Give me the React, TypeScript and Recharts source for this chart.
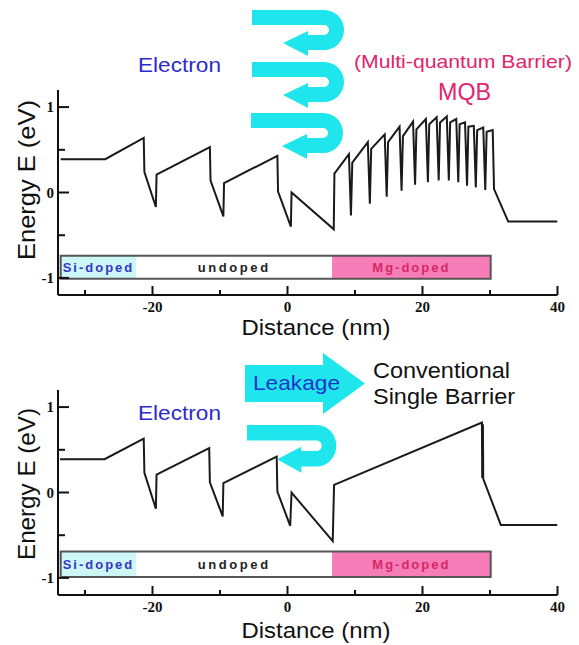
import { LineChart, Line, XAxis, YAxis, ReferenceArea } from 'recharts'

// axis ticks
const xTicks = [-30, -20, -10, 0, 10, 20, 30, 40]
const xTickLabels = [-20, 0, 20, 40]
const yTicks = [-1, -0.5, 0, 0.5, 1]
const yTickLabels = [-1, 0, 1]

// conduction band with multi-quantum barrier (distance nm, energy eV)
const mqbProfile: [number, number][] = [
  [-33.6, 0.39], [-27.0, 0.39], [-21.3, 0.64], [-21.2, 0.24], [-19.5, -0.17], [-19.4, 0.21],
  [-11.5, 0.53], [-11.4, 0.14], [-9.5, -0.28], [-9.4, 0.11],
  [-1.5, 0.43], [-1.4, 0.01], [0.5, -0.4], [0.6, 0.0], [6.85, -0.43], [6.95, 0.22],
  [9.1, 0.45], [9.4, -0.27], [9.6, 0.35],
  [11.9, 0.59], [12.2, -0.13], [12.4, 0.51],
  [14.4, 0.68], [14.7, -0.05], [14.9, 0.59],
  [16.6, 0.77], [16.9, 0.02], [17.1, 0.66],
  [18.6, 0.83], [18.9, 0.09], [19.1, 0.74],
  [20.5, 0.86], [20.8, 0.12], [21.0, 0.8],
  [22.1, 0.88], [22.4, 0.14], [22.6, 0.82],
  [23.6, 0.89], [23.9, 0.14], [24.1, 0.82],
  [25.0, 0.86], [25.3, 0.12], [25.5, 0.8],
  [26.3, 0.82], [26.6, 0.08], [26.8, 0.77],
  [27.6, 0.78], [27.9, 0.06], [28.1, 0.73],
  [29.0, 0.76], [29.3, 0.03], [29.5, 0.71],
  [30.4, 0.73], [30.6, 0.04], [32.7, -0.34], [40, -0.34],
]

// conduction band with conventional single barrier
const singleProfile: [number, number][] = [
  [-33.7, 0.39], [-27.1, 0.39], [-21.3, 0.63], [-21.2, 0.23], [-19.5, -0.19], [-19.4, 0.21],
  [-11.6, 0.52], [-11.5, 0.12], [-9.6, -0.28], [-9.5, 0.11],
  [-1.6, 0.42], [-1.5, 0.01], [0.4, -0.39], [0.6, 0.0], [6.7, -0.57], [6.9, 0.09],
  [28.8, 0.82], [28.85, 0.17], [28.95, 0.8], [29.0, 0.16], [31.6, -0.38], [40, -0.38],
]

// doping layers
const dopingNames = ['Si-doped', 'undoped', 'Mg-doped']
const dopingStart = [-33.6, -22.4, 6.6]
const dopingEnd = [-22.4, 6.6, 30.1]
const dopingFill = ['#cdf6f7', '#ffffff', '#f77db9']
const dopingText = ['#3535c8', '#222222', '#d42a62']
const dopingSpacing = [2, 2.6, 2]

const sans = '"Liberation Sans", Arial, sans-serif'
const serif = '"Liberation Serif", "Times New Roman", serif'

const XTick = (props: any) => {
  const { x, y, payload } = props
  const major = xTickLabels.includes(payload.value)
  return (
    <g>
      <line x1={x} x2={x} y1={y} y2={y - (major ? 9 : 5)} stroke="#111" strokeWidth={2} />
      {major && (
        <text x={x} y={y + 17} textAnchor="middle" fontFamily={serif} fontWeight="bold" fontSize={15} fill="#111">
          {payload.value}
        </text>
      )}
    </g>
  )
}

const YTick = (props: any) => {
  const { x, y, payload } = props
  const major = yTickLabels.includes(payload.value)
  return (
    <g>
      <line x1={x} x2={x + (major ? 11 : 7)} y1={y} y2={y} stroke="#111" strokeWidth={2} />
      {major && (
        <text x={x - 4} y={y + 5} textAnchor="end" fontFamily={serif} fontWeight="bold" fontSize={15} fill="#111">
          {payload.value}
        </text>
      )}
    </g>
  )
}

function Panel({ points, barTop, barBottom }: { points: [number, number][]; barTop: number; barBottom: number }) {
  const data = points.map(([x, y]) => ({ x, y }))
  return (
    <LineChart width={579} height={340} data={data} margin={{ top: 90, right: 21.5, bottom: 0, left: 0 }}>
      <XAxis
        type="number"
        dataKey="x"
        domain={[-34, 40]}
        ticks={xTicks}
        interval={0}
        allowDataOverflow
        height={45}
        tickSize={0}
        tickMargin={0}
        tickLine={false}
        axisLine={{ stroke: '#111', strokeWidth: 2 }}
        tick={(p: any) => <XTick {...p} />}
      />
      <YAxis
        type="number"
        domain={[-1.2, 1.2]}
        ticks={yTicks}
        interval={0}
        allowDataOverflow
        width={58}
        tickSize={0}
        tickMargin={0}
        tickLine={false}
        axisLine={{ stroke: '#111', strokeWidth: 2 }}
        tick={(p: any) => <YTick {...p} />}
      />
      {dopingNames.map((name, i) => (
        <ReferenceArea
          key={name}
          x1={dopingStart[i]}
          x2={dopingEnd[i]}
          y1={barBottom}
          y2={barTop}
          fill={dopingFill[i]}
          fillOpacity={1}
          stroke="none"
          label={{
            position: 'center',
            content: (lp: any) => {
              const vb = lp.viewBox
              return (
                <text
                  x={vb.x + vb.width / 2}
                  y={vb.y + vb.height / 2 + 4.5}
                  textAnchor="middle"
                  fontFamily={sans}
                  fontWeight="bold"
                  fontSize={13}
                  letterSpacing={dopingSpacing[i]}
                  fill={dopingText[i]}
                >
                  {name}
                </text>
              )
            },
          }}
        />
      ))}
      <ReferenceArea
        x1={dopingStart[0]}
        x2={dopingEnd[2]}
        y1={barBottom}
        y2={barTop}
        fill="none"
        stroke="#555"
        strokeWidth={2}
      />
      <Line dataKey="y" type="linear" stroke="#1a1a1a" strokeWidth={2} dot={false} isAnimationActive={false} />
    </LineChart>
  )
}

const uTurn = 'M0,0 L72,0 A20,20 0 0 1 72,40 L56,40 L56,46 L31,33 L56,21 L56,25 L72,25 A5,5 0 0 0 72,15 L0,15 Z'
const cyan = '#1fe6ec'

function Overlay() {
  return (
    <svg width={579} height={645} style={{ position: 'absolute', left: 0, top: 0, pointerEvents: 'none' }}>
      {/* top panel */}
      <path d={uTurn} transform="translate(252,10)" fill={cyan} />
      <path d={uTurn} transform="translate(252,62)" fill={cyan} />
      <path d={uTurn} transform="translate(251,113)" fill={cyan} />
      <text x={138} y={72} fontFamily={sans} fontSize={20} fill="#2b2bcf" textLength={83} lengthAdjust="spacingAndGlyphs">Electron</text>
      <text x={354} y={68} fontFamily={sans} fontSize={19} fill="#e3236c" textLength={218} lengthAdjust="spacingAndGlyphs">(Multi-quantum Barrier)</text>
      <text x={438} y={100} fontFamily={sans} fontSize={23} fill="#e3236c" textLength={53} lengthAdjust="spacingAndGlyphs">MQB</text>
      <text transform="translate(35,180) rotate(-90)" textAnchor="middle" fontFamily={sans} fontSize={24} fill="#111" textLength={160} lengthAdjust="spacingAndGlyphs">Energy E (eV)</text>
      <text x={316} y={335} textAnchor="middle" fontFamily={sans} fontSize={22} fill="#111" textLength={149} lengthAdjust="spacingAndGlyphs">Distance (nm)</text>

      {/* bottom panel */}
      <path d="M245,365 L323,365 L323,353 L365,383.5 L323,414 L323,402 L245,402 Z" fill={cyan} />
      <text x={253} y={390} fontFamily={sans} fontSize={21} fill="#1f35c8" textLength={87} lengthAdjust="spacingAndGlyphs">Leakage</text>
      <path d={uTurn} transform="translate(247,425) scale(0.97,1.04)" fill={cyan} />
      <text x={138} y={420} fontFamily={sans} fontSize={20} fill="#2b2bcf" textLength={83} lengthAdjust="spacingAndGlyphs">Electron</text>
      <text x={373} y={378} fontFamily={sans} fontSize={22} fill="#111" textLength={137} lengthAdjust="spacingAndGlyphs">Conventional</text>
      <text x={373} y={404} fontFamily={sans} fontSize={22} fill="#111" textLength={142} lengthAdjust="spacingAndGlyphs">Single Barrier</text>
      <text transform="translate(35,484) rotate(-90)" textAnchor="middle" fontFamily={sans} fontSize={24} fill="#111" textLength={152} lengthAdjust="spacingAndGlyphs">Energy E (eV)</text>
      <text x={316} y={638} textAnchor="middle" fontFamily={sans} fontSize={22} fill="#111" textLength={149} lengthAdjust="spacingAndGlyphs">Distance (nm)</text>
    </svg>
  )
}

export default function App() {
  return (
    <div style={{ position: 'relative', width: 579, height: 645, margin: '-8px -8px 0 -8px', background: '#fff', overflow: 'hidden' }}>
      <div style={{ position: 'absolute', left: 0, top: 0 }}>
        <Panel points={mqbProfile} barTop={-0.74} barBottom={-1.01} />
      </div>
      <div style={{ position: 'absolute', left: 0, top: 300 }}>
        <Panel points={singleProfile} barTop={-0.69} barBottom={-0.99} />
      </div>
      <Overlay />
    </div>
  )
}
